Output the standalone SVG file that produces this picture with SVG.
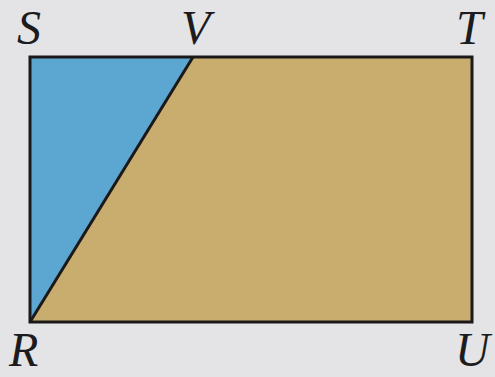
<svg xmlns="http://www.w3.org/2000/svg" width="495" height="377" viewBox="0 0 495 377">
<style>
.lbl{font-family:"Liberation Serif","Times New Roman",serif;font-style:italic;font-size:48px;fill:#1c1c1e}
.edge{fill:none;stroke:#1a1818;stroke-width:3;stroke-linejoin:miter}
</style>
<rect x="0" y="0" width="495" height="377" fill="#e4e4e6"/>
<g id="trapezoid"><polygon points="193,57 472,57 472,322 29,322" fill="#c8ad6f"/></g>
<g id="triangle"><polygon points="30,57 193,57 29,322" fill="#5ca6d2"/></g>
<g id="connectors">
<rect class="edge" x="30" y="57" width="442" height="265"/>
<line class="edge" x1="193" y1="57" x2="30" y2="322"/>
</g>
<g id="S"><text class="lbl" x="17" y="44">S</text></g>
<g id="V"><text class="lbl" x="181" y="44">V</text></g>
<g id="T"><text class="lbl" x="456" y="44">T</text></g>
<g id="R"><text class="lbl" x="9" y="366">R</text></g>
<g id="U"><text class="lbl" x="455" y="366">U</text></g>
</svg>
